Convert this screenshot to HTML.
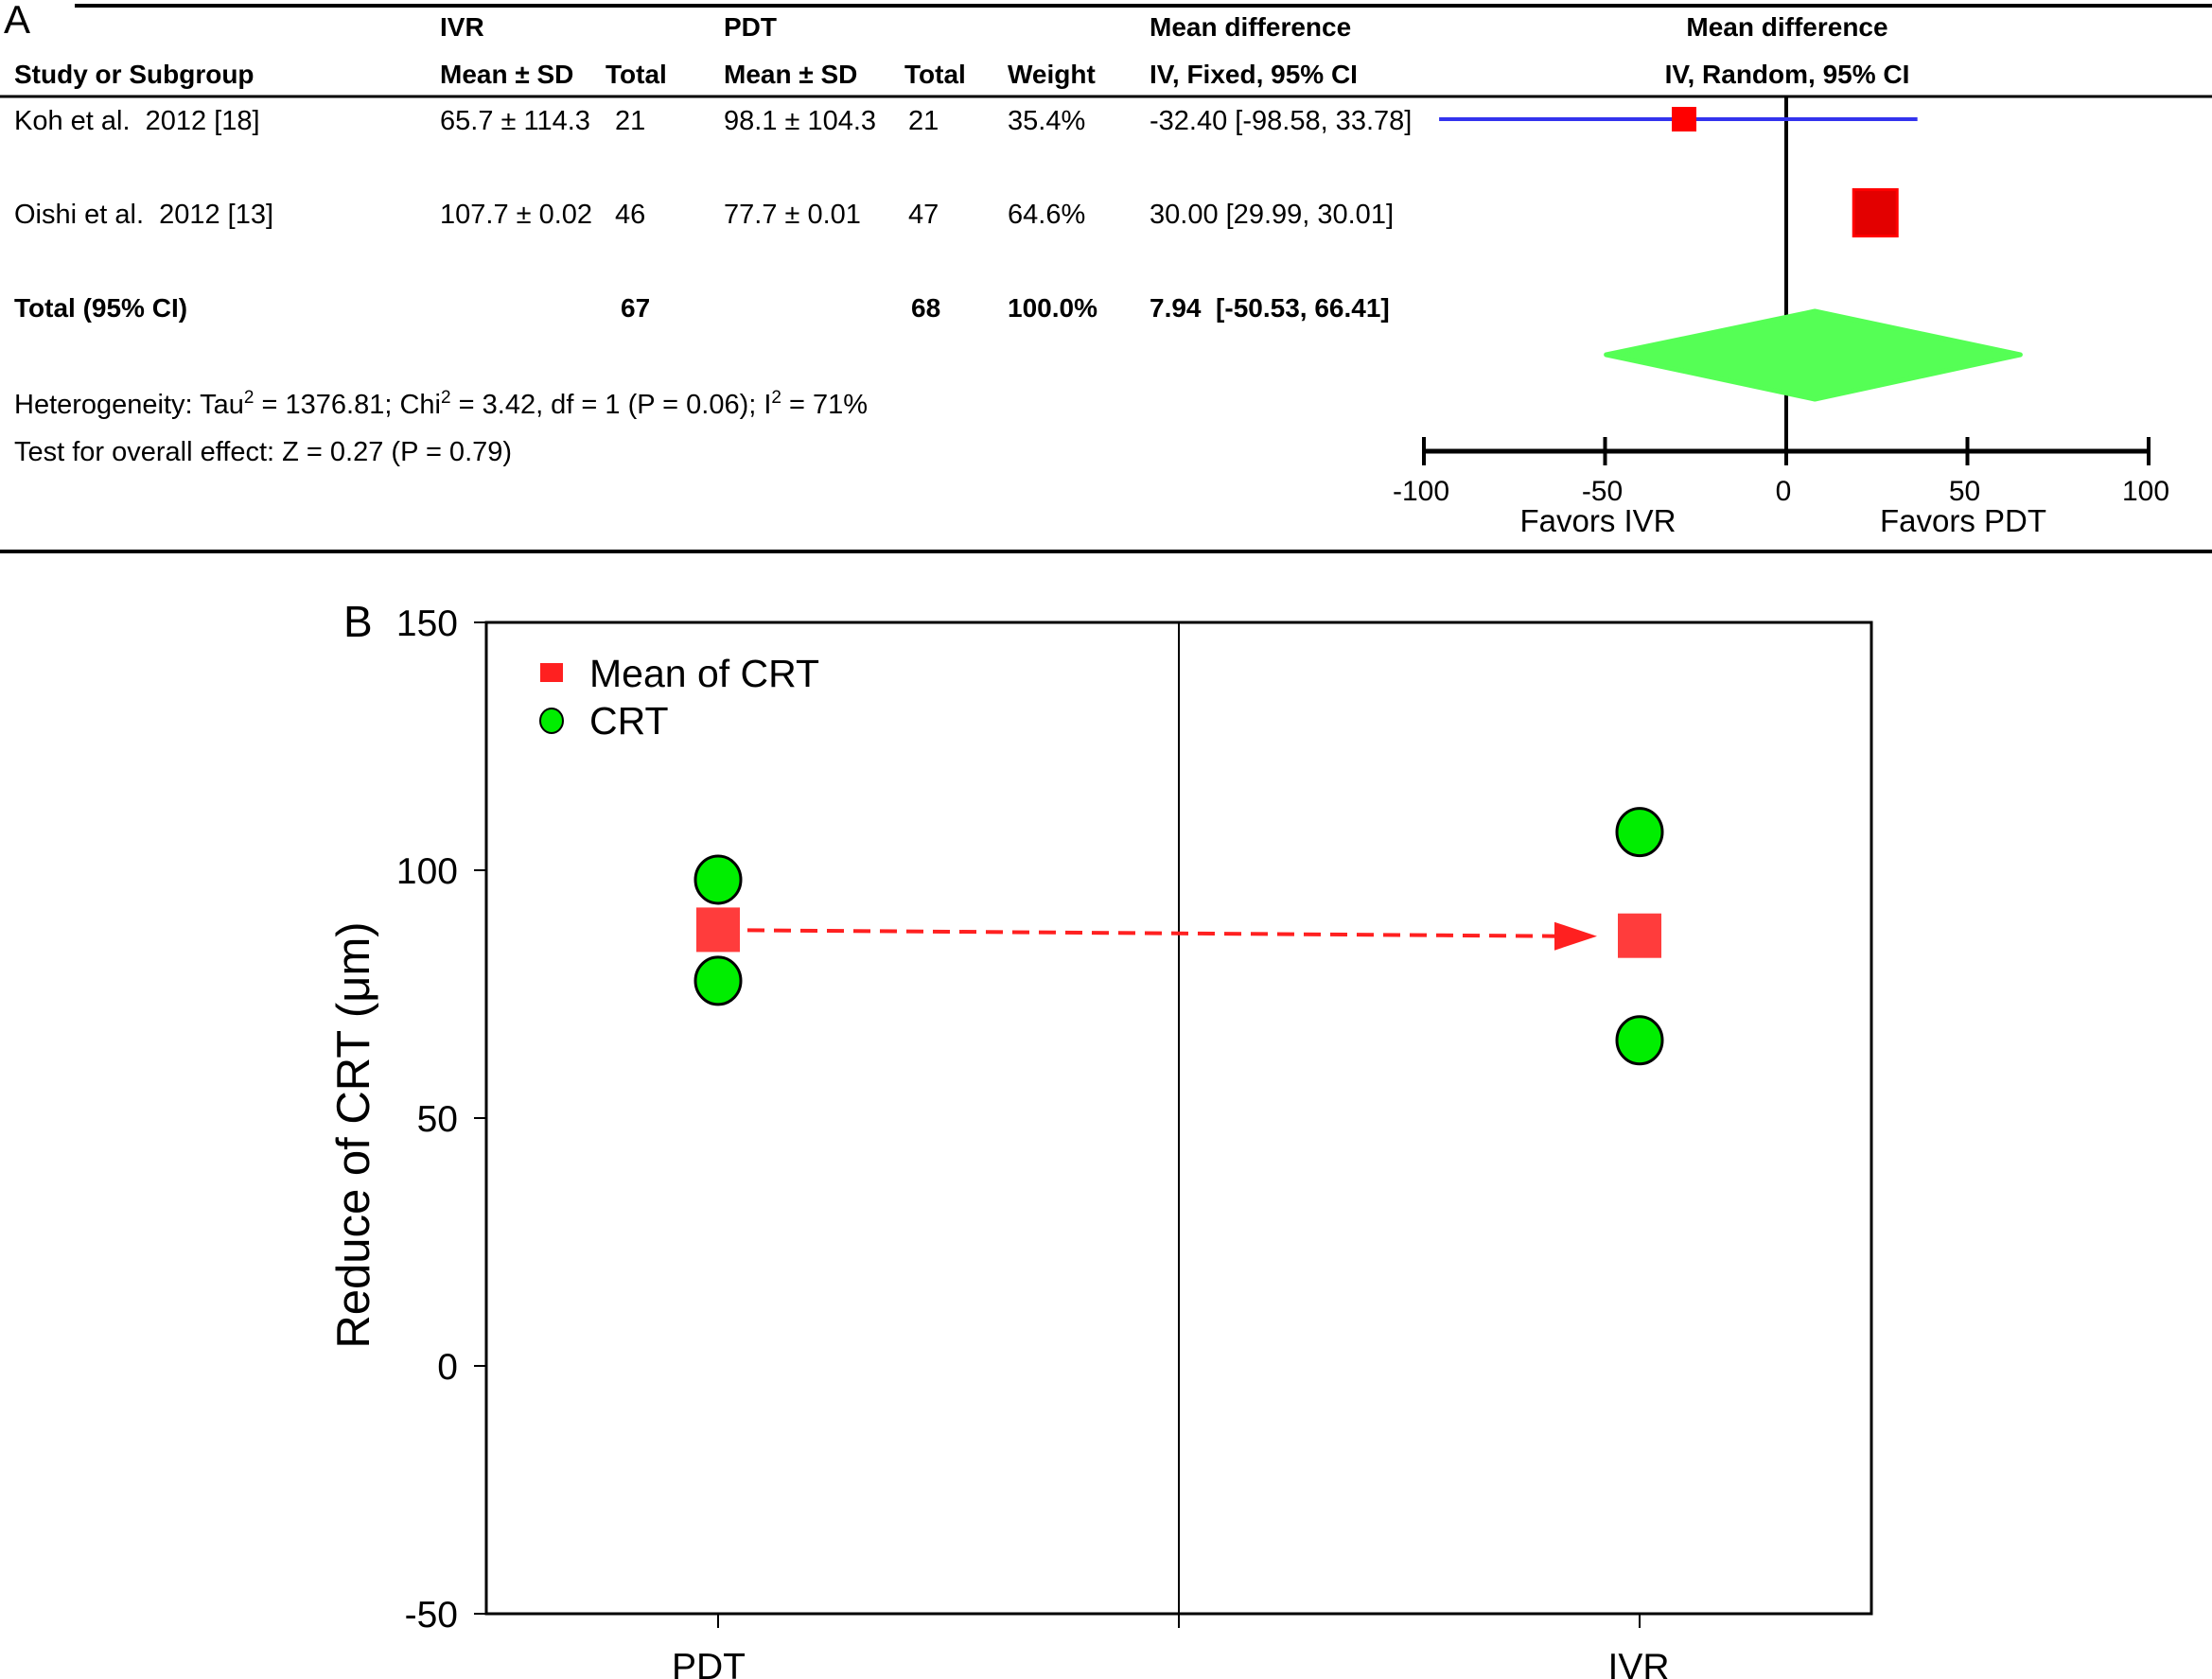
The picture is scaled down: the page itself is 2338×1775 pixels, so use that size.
<!DOCTYPE html>
<html><head><meta charset="utf-8"><style>
html,body{margin:0;padding:0;background:#fff;}
svg{display:block;font-family:"Liberation Sans",Arial,sans-serif;}
text{white-space:pre;}
</style></head><body>
<svg id="fig" width="2338" height="1775" viewBox="0 0 2338 1775" xmlns="http://www.w3.org/2000/svg">
<g font-size="29" fill="#000">
  <text x="4" y="35" font-size="42">A</text>
  <line x1="79" y1="6" x2="2338" y2="6" stroke="#000" stroke-width="4"/>
  <g font-weight="bold" font-size="28">
    <text x="465" y="38">IVR</text>
    <text x="765" y="38">PDT</text>
    <text x="1215" y="38">Mean difference</text>
    <text x="1889" y="38" text-anchor="middle">Mean difference</text>
    <text x="15" y="88">Study or Subgroup</text>
    <text x="465" y="88">Mean ± SD</text>
    <text x="640" y="88">Total</text>
    <text x="765" y="88">Mean ± SD</text>
    <text x="956" y="88">Total</text>
    <text x="1065" y="88">Weight</text>
    <text x="1215" y="88">IV, Fixed, 95% CI</text>
    <text x="1889" y="88" text-anchor="middle">IV, Random, 95% CI</text>
  </g>
  <line x1="0" y1="102" x2="2338" y2="102" stroke="#000" stroke-width="3"/>
  <g>
    <text x="15" y="137">Koh et al.  2012 [18]</text>
    <text x="465" y="137">65.7 ± 114.3</text><text x="650" y="137">21</text>
    <text x="765" y="137">98.1 ± 104.3</text><text x="960" y="137">21</text>
    <text x="1065" y="137">35.4%</text><text x="1215" y="137">-32.40 [-98.58, 33.78]</text>
  </g>
  <g>
    <text x="15" y="236">Oishi et al.  2012 [13]</text>
    <text x="465" y="236">107.7 ± 0.02</text><text x="650" y="236">46</text>
    <text x="765" y="236">77.7 ± 0.01</text><text x="960" y="236">47</text>
    <text x="1065" y="236">64.6%</text><text x="1215" y="236">30.00 [29.99, 30.01]</text>
  </g>
  <g font-weight="bold" font-size="28">
    <text x="15" y="335">Total (95% CI)</text>
    <text x="656" y="335">67</text><text x="963" y="335">68</text>
    <text x="1065" y="335">100.0%</text><text x="1215" y="335">7.94  [-50.53, 66.41]</text>
  </g>
  <text x="15" y="437">Heterogeneity: Tau<tspan font-size="19" dy="-11">2</tspan><tspan dy="11"> = 1376.81; Chi</tspan><tspan font-size="19" dy="-11">2</tspan><tspan dy="11"> = 3.42, df = 1 (P = 0.06); I</tspan><tspan font-size="19" dy="-11">2</tspan><tspan dy="11"> = 71%</tspan></text>
  <text x="15" y="487">Test for overall effect: Z = 0.27 (P = 0.79)</text>
  <g id="forest"></g>
  <line x1="0" y1="583" x2="2338" y2="583" stroke="#000" stroke-width="4"/>
</g>
<g id="panelB"></g>
</svg>
<script>
// ---- Forest plot data ----
const forestTicks = [-100, -50, 0, 50, 100];
const forestTickLabels = ["-100", "-50", "0", "50", "100"];
const studyPoints = [-28.2, 24.6];
const studyLow = [-95.8, null];
const studyHigh = [36.2, null];
const studyBoxW = [26, 46];
const diamondMid = 7.9;
const diamondLow = -49.7;
const diamondHigh = 64.6;
// ---- Panel B data ----
const categories = ["PDT", "IVR"];
const crtValues = [[98.1, 77.7], [107.7, 65.7]];
const crtMeans = [87.9, 86.7];
const yTicks = [150, 100, 50, 0, -50];
const yTickLabels = ["150", "100", "50", "0", "-50"];

const NS = "http://www.w3.org/2000/svg";
function mk(parent, tag, attrs) {
  const e = document.createElementNS(NS, tag);
  for (const k in attrs) e.setAttribute(k, attrs[k]);
  parent.appendChild(e);
  return e;
}
// Forest scales
const fx = v => 1888 + v * (2271 - 1505) / 200;
const forest = document.getElementById('forest');
const rowY = [126, 225];
let zl = mk(forest, 'line', {x1: fx(0), y1: 102, x2: fx(0), y2: 477, stroke: '#000', 'stroke-width': 4});


let ax = mk(forest, 'line', {x1: fx(-100), y1: 477, x2: fx(100), y2: 477, stroke: '#000', 'stroke-width': 5});


forestTicks.forEach((t, i) => {
  const tk = mk(forest, 'line', {x1: fx(t), y1: 462, x2: fx(t), y2: 492, stroke: '#000', 'stroke-width': 4});
  
  
  const tl = mk(forest, 'text', {x: fx(t) - 3, y: 529, 'text-anchor': 'middle', 'font-size': 30});
  tl.textContent = forestTickLabels[i];
  
  
});
studyPoints.forEach((p, i) => {
  if (studyLow[i] !== null) {
    const ci = mk(forest, 'line', {x1: fx(studyLow[i]), y1: rowY[i], x2: fx(studyHigh[i]), y2: rowY[i], stroke: '#3333ee', 'stroke-width': 4});
    
    
  }
  const w = studyBoxW[i], h = i === 0 ? 26 : 49;
  const r = mk(forest, 'rect', {x: fx(p) - w / 2, y: rowY[i] - h / 2, width: w, height: h,
    fill: i === 0 ? '#ff0000' : '#e30000', stroke: '#ff0000', 'stroke-width': i === 0 ? 0 : 3});
  
  
});
const dm = mk(forest, 'polygon', {points: `${fx(diamondLow)},375 ${fx(diamondMid)},329 ${fx(diamondHigh)},375 ${fx(diamondMid)},422`, fill: '#55ff55', stroke: '#55ff55', 'stroke-width': 5, 'stroke-linejoin': 'round'});


[['Favors IVR', 1689], ['Favors PDT', 2075]].forEach(([s, x]) => {
  const t = mk(forest, 'text', {x: x, y: 562, 'text-anchor': 'middle', 'font-size': 33});
  t.textContent = s;
  
  
});

// Panel B
const B = document.getElementById('panelB');
const L = 514, R = 1978, T = 658, Bo = 1706;
const yv = v => T + (150 - v) * (Bo - T) / 200;
const xc = i => [759, 1733][i];
let lb = mk(B, 'text', {x: 363, y: 673, 'font-size': 46});
lb.textContent = 'B';


let box = mk(B, 'rect', {x: L, y: T, width: R - L, height: Bo - T, fill: 'none', stroke: '#000', 'stroke-width': 3});


let mid = mk(B, 'line', {x1: 1246, y1: T, x2: 1246, y2: Bo + 15, stroke: '#000', 'stroke-width': 2});


yTicks.forEach((t, i) => {
  const tk = mk(B, 'line', {x1: L - 13, y1: yv(t), x2: L, y2: yv(t), stroke: '#000', 'stroke-width': 2});
  
  
  const tl = mk(B, 'text', {x: 484, y: yv(t) + 14, 'text-anchor': 'end', 'font-size': 39});
  tl.textContent = yTickLabels[i];
  
  
});
const xLabelShift = [-10, -1];
categories.forEach((c, i) => {
  const tk = mk(B, 'line', {x1: xc(i), y1: Bo, x2: xc(i), y2: Bo + 15, stroke: '#000', 'stroke-width': 2});
  
  
  const tl = mk(B, 'text', {x: xc(i) + xLabelShift[i], y: 1775, 'text-anchor': 'middle', 'font-size': 39});
  tl.textContent = c;
  
  
});
let yt = mk(B, 'text', {x: 0, y: 0, transform: 'translate(390,1200) rotate(-90)', 'text-anchor': 'middle', 'font-size': 49});
yt.textContent = 'Reduce of CRT (μm)';


// arrow
const ax1 = xc(0) + 31, ax2 = xc(1) - 45;
let ar = mk(B, 'line', {x1: ax1, y1: yv(crtMeans[0]), x2: ax2 - 40, y2: yv(crtMeans[1]), stroke: '#ff2020', 'stroke-width': 4, 'stroke-dasharray': '18,10'});


let ah = mk(B, 'polygon', {points: `${ax2 - 45},${yv(crtMeans[1]) - 15} ${ax2},${yv(crtMeans[1])} ${ax2 - 45},${yv(crtMeans[1]) + 15}`, fill: '#ff2020'});


categories.forEach((c, i) => {
  crtValues[i].forEach(v => {
    const e = mk(B, 'ellipse', {cx: xc(i), cy: yv(v), rx: 24, ry: 25, fill: '#00ee00', stroke: '#000', 'stroke-width': 3});
    
    
  });
  const m = mk(B, 'rect', {x: xc(i) - 23, y: yv(crtMeans[i]) - 24, width: 46, height: 47, fill: '#ff3c3c'});
  
  
});
// legend
let lg = mk(B, 'g', {});


let ls = mk(lg, 'rect', {x: 571, y: 701, width: 24, height: 20, fill: '#ff2020'});


let lt1 = mk(lg, 'text', {x: 623, y: 726, 'font-size': 41});
lt1.textContent = 'Mean of CRT';


let lc = mk(lg, 'ellipse', {cx: 583, cy: 762, rx: 12, ry: 13, fill: '#00ee00', stroke: '#000', 'stroke-width': 2});


let lt2 = mk(lg, 'text', {x: 623, y: 776, 'font-size': 41});
lt2.textContent = 'CRT';


</script>
</body></html>
